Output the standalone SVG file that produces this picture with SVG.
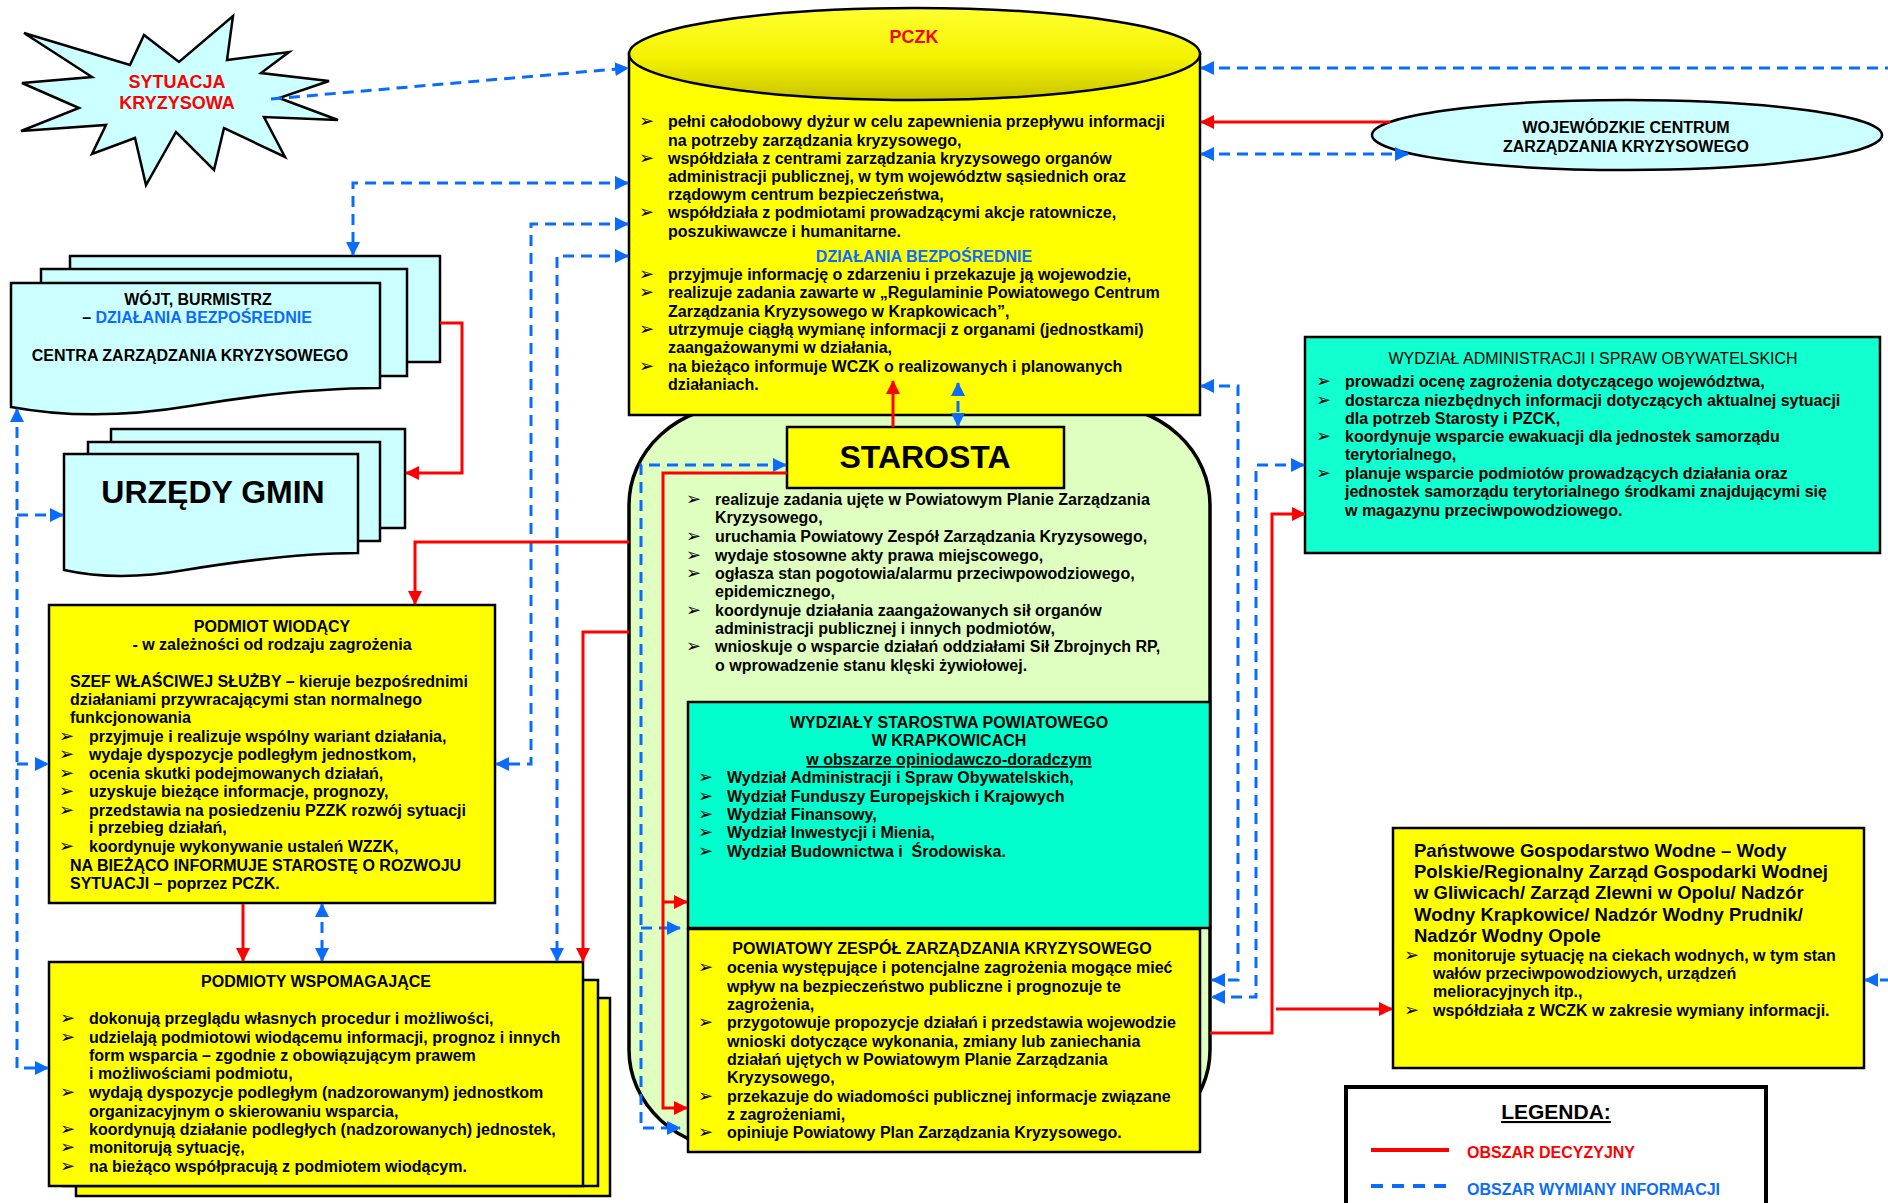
<svg xmlns="http://www.w3.org/2000/svg" width="1888" height="1203" viewBox="0 0 1888 1203">
<style>
.t{font-family:"Liberation Sans",Arial,sans-serif;font-weight:bold;font-size:16px;fill:#000}
.n{font-weight:normal}
.c{text-anchor:middle}
.bl{fill:#0a6cff}
.rd{fill:#ff0000}
.u{text-decoration:underline}
.s18{font-size:18px}
.s185{font-size:18.5px}
.s21{font-size:21px}
.s31{font-size:32px}
.b{font-family:"DejaVu Sans",sans-serif;font-size:18px;fill:#000}
.box{stroke:#000;stroke-width:2.5}
.yel{fill:#ffff00}
.cy{fill:#ccffff}
.aq{fill:#00ffcc}
.info{stroke:#0a6cff;stroke-width:3;stroke-dasharray:11 7;fill:none}
.dec{stroke:#ff0000;stroke-width:3;fill:none}
</style>
<defs>
<linearGradient id="topg" x1="0" y1="0" x2="0" y2="1">
<stop offset="0" stop-color="#ffff30"/>
<stop offset="0.55" stop-color="#f4f200"/>
<stop offset="1" stop-color="#c8c400"/>
</linearGradient>
<marker id="ab" viewBox="0 0 14 14" refX="13" refY="7" markerWidth="14" markerHeight="14" markerUnits="userSpaceOnUse" orient="auto-start-reverse"><path d="M0,0 L14,7 L0,14 z" fill="#0a6cff"/></marker>
<marker id="ar" viewBox="0 0 14 14" refX="13" refY="7" markerWidth="14" markerHeight="14" markerUnits="userSpaceOnUse" orient="auto-start-reverse"><path d="M0,0 L14,7 L0,14 z" fill="#ff0000"/></marker>
</defs>
<rect width="1888" height="1203" fill="#fff"/>

<g id="sytuacja">
<polygon class="box cy" points="24,33 130,65 144,35 179,62 233,16 227,60 289,52 261,73 329,81 279,98 338,120 264,117 285,157 224,128 214,170 176,132 146,185 135,138 92,154 106,125 21,131 79,108 22,83 92,77"/>
<text class="t c rd s18" x="177" y="88">SYTUACJA</text>
<text class="t c rd s18" x="177" y="109">KRYZYSOWA</text>
</g>

<g id="wojt">
<rect class="box cy" x="70" y="256" width="370" height="106"/>
<rect class="box cy" x="41" y="269" width="366" height="107"/>
<path class="box cy" d="M11,283 H380 V388 C320,388 250,396 190,406 C130,416 70,418 11,407 Z"/>
<text class="t c" x="198" y="305">WÓJT, BURMISTRZ</text>
<text class="t c" x="197" y="323">– <tspan class="bl">DZIAŁANIA BEZPOŚREDNIE</tspan></text>
<text class="t c" x="190" y="361">CENTRA ZARZĄDZANIA KRYZYSOWEGO</text>
</g>

<g id="urzedy">
<rect class="box cy" x="111" y="429" width="294" height="99"/>
<rect class="box cy" x="88" y="442" width="292" height="99"/>
<path class="box cy" d="M64,454 H358 V553 C300,553 240,561 185,570 C140,578 100,578 64,570 Z"/>
<text class="t c s31" x="213" y="503">URZĘDY GMIN</text>
</g>

<g id="podmiot-wiodacy">
<rect class="box yel" x="49" y="605" width="446" height="298"/>
<text class="t c" x="272" y="632">PODMIOT WIODĄCY</text>
<text class="t c" x="272" y="650">- w zależności od rodzaju zagrożenia</text>
<text class="t" x="70" y="687">SZEF WŁAŚCIWEJ SŁUŻBY – kieruje bezpośrednimi</text>
<text class="t" x="70" y="705">działaniami przywracającymi stan normalnego</text>
<text class="t" x="70" y="723">funkcjonowania</text>
<text class="b" x="59" y="742">➢</text><text class="t" x="89" y="742">przyjmuje i realizuje wspólny wariant działania,</text>
<text class="b" x="59" y="760">➢</text><text class="t" x="89" y="760">wydaje dyspozycje podległym jednostkom,</text>
<text class="b" x="59" y="779">➢</text><text class="t" x="89" y="779">ocenia skutki podejmowanych działań,</text>
<text class="b" x="59" y="797">➢</text><text class="t" x="89" y="797">uzyskuje bieżące informacje, prognozy,</text>
<text class="b" x="59" y="816">➢</text><text class="t" x="89" y="816">przedstawia na posiedzeniu PZZK rozwój sytuacji</text>
<text class="t" x="89" y="833">i przebieg działań,</text>
<text class="b" x="59" y="852">➢</text><text class="t" x="89" y="852">koordynuje wykonywanie ustaleń WZZK,</text>
<text class="t" x="70" y="871">NA BIEŻĄCO INFORMUJE STAROSTĘ O ROZWOJU</text>
<text class="t" x="70" y="889">SYTUACJI – poprzez PCZK.</text>
</g>

<g id="podmioty-wspomagajace">
<rect class="box yel" x="76" y="998" width="534" height="198"/>
<rect class="box yel" x="63" y="980" width="535" height="206"/>
<rect class="box yel" x="49" y="962" width="534" height="224"/>
<text class="t c" x="316" y="987">PODMIOTY WSPOMAGAJĄCE</text>
<text class="b" x="60" y="1024">➢</text><text class="t" x="89" y="1024">dokonują przeglądu własnych procedur i możliwości,</text>
<text class="b" x="60" y="1043">➢</text><text class="t" x="89" y="1043">udzielają podmiotowi wiodącemu informacji, prognoz i innych</text>
<text class="t" x="89" y="1061">form wsparcia – zgodnie z obowiązującym prawem</text>
<text class="t" x="89" y="1079">i możliwościami podmiotu,</text>
<text class="b" x="60" y="1098">➢</text><text class="t" x="89" y="1098">wydają dyspozycje podległym (nadzorowanym) jednostkom</text>
<text class="t" x="89" y="1117">organizacyjnym o skierowaniu wsparcia,</text>
<text class="b" x="60" y="1135">➢</text><text class="t" x="89" y="1135">koordynują działanie podległych (nadzorowanych) jednostek,</text>
<text class="b" x="60" y="1153">➢</text><text class="t" x="89" y="1153">monitorują sytuację,</text>
<text class="b" x="60" y="1172">➢</text><text class="t" x="89" y="1172">na bieżąco współpracują z podmiotem wiodącym.</text>
</g>

<g id="powiat">
<rect x="629" y="405" width="581" height="745" rx="110" ry="100" fill="#dfffc0" stroke="#000" stroke-width="3.5"/>
</g>

<g id="pczk">
<rect class="box yel" x="629" y="54" width="571" height="361"/>
<ellipse cx="914.5" cy="54" rx="285.5" ry="46" fill="url(#topg)" stroke="#000" stroke-width="2.5"/>
<text class="t c rd s18" x="914" y="43">PCZK</text>
<text class="b" x="639" y="127">➢</text><text class="t" x="668" y="127">pełni całodobowy dyżur w celu zapewnienia przepływu informacji</text>
<text class="t" x="668" y="146">na potrzeby zarządzania kryzysowego,</text>
<text class="b" x="639" y="164">➢</text><text class="t" x="668" y="164">współdziała z centrami zarządzania kryzysowego organów</text>
<text class="t" x="668" y="182">administracji publicznej, w tym województw sąsiednich oraz</text>
<text class="t" x="668" y="200">rządowym centrum bezpieczeństwa,</text>
<text class="b" x="639" y="218">➢</text><text class="t" x="668" y="218">współdziała z podmiotami prowadzącymi akcje ratownicze,</text>
<text class="t" x="668" y="237">poszukiwawcze i humanitarne.</text>
<text class="t c bl" x="924" y="262">DZIAŁANIA BEZPOŚREDNIE</text>
<text class="b" x="639" y="280">➢</text><text class="t" x="668" y="280">przyjmuje informację o zdarzeniu i przekazuje ją wojewodzie,</text>
<text class="b" x="639" y="298">➢</text><text class="t" x="668" y="298">realizuje zadania zawarte w „Regulaminie Powiatowego Centrum</text>
<text class="t" x="668" y="317">Zarządzania Kryzysowego w Krapkowicach”,</text>
<text class="b" x="639" y="335">➢</text><text class="t" x="668" y="335">utrzymuje ciągłą wymianę informacji z organami (jednostkami)</text>
<text class="t" x="668" y="353">zaangażowanymi w działania,</text>
<text class="b" x="639" y="372">➢</text><text class="t" x="668" y="372">na bieżąco informuje WCZK o realizowanych i planowanych</text>
<text class="t" x="668" y="390">działaniach.</text>
</g>

<g id="starosta">
<rect class="box yel" x="787" y="427" width="277" height="61"/>
<text class="t c s31" x="925" y="468">STAROSTA</text>
<text class="b" x="686" y="505">➢</text><text class="t" x="715" y="505">realizuje zadania ujęte w Powiatowym Planie Zarządzania</text>
<text class="t" x="715" y="523">Kryzysowego,</text>
<text class="b" x="686" y="542">➢</text><text class="t" x="715" y="542">uruchamia Powiatowy Zespół Zarządzania Kryzysowego,</text>
<text class="b" x="686" y="561">➢</text><text class="t" x="715" y="561">wydaje stosowne akty prawa miejscowego,</text>
<text class="b" x="686" y="579">➢</text><text class="t" x="715" y="579">ogłasza stan pogotowia/alarmu przeciwpowodziowego,</text>
<text class="t" x="715" y="597">epidemicznego,</text>
<text class="b" x="686" y="616">➢</text><text class="t" x="715" y="616">koordynuje działania zaangażowanych sił organów</text>
<text class="t" x="715" y="634">administracji publicznej i innych podmiotów,</text>
<text class="b" x="686" y="652">➢</text><text class="t" x="715" y="652">wnioskuje o wsparcie działań oddziałami Sił Zbrojnych RP,</text>
<text class="t" x="715" y="671">o wprowadzenie stanu klęski żywiołowej.</text>
</g>

<g id="wydzialy">
<rect class="box aq" x="688" y="702" width="522" height="226"/>
<text class="t c" x="949" y="728">WYDZIAŁY STAROSTWA POWIATOWEGO</text>
<text class="t c" x="949" y="746">W KRAPKOWICACH</text>
<text class="t c u" x="949" y="765">w obszarze opiniodawczo-doradczym</text>
<text class="b" x="698" y="783">➢</text><text class="t" x="727" y="783">Wydział Administracji i Spraw Obywatelskich,</text>
<text class="b" x="698" y="802">➢</text><text class="t" x="727" y="802">Wydział Funduszy Europejskich i Krajowych</text>
<text class="b" x="698" y="820">➢</text><text class="t" x="727" y="820">Wydział Finansowy,</text>
<text class="b" x="698" y="838">➢</text><text class="t" x="727" y="838">Wydział Inwestycji i Mienia,</text>
<text class="b" x="698" y="857">➢</text><text class="t" x="727" y="857" xml:space="preserve">Wydział Budownictwa i  Środowiska.</text>
</g>

<g id="pzzk">
<rect class="box yel" x="688" y="929" width="512" height="223"/>
<text class="t c" x="942" y="954">POWIATOWY ZESPÓŁ ZARZĄDZANIA KRYZYSOWEGO</text>
<text class="b" x="698" y="973">➢</text><text class="t" x="727" y="973">ocenia występujące i potencjalne zagrożenia mogące mieć</text>
<text class="t" x="727" y="992">wpływ na bezpieczeństwo publiczne i prognozuje te</text>
<text class="t" x="727" y="1010">zagrożenia,</text>
<text class="b" x="698" y="1028">➢</text><text class="t" x="727" y="1028">przygotowuje propozycje działań i przedstawia wojewodzie</text>
<text class="t" x="727" y="1047">wnioski dotyczące wykonania, zmiany lub zaniechania</text>
<text class="t" x="727" y="1065">działań ujętych w Powiatowym Planie Zarządzania</text>
<text class="t" x="727" y="1083">Kryzysowego,</text>
<text class="b" x="698" y="1102">➢</text><text class="t" x="727" y="1102">przekazuje do wiadomości publicznej informacje związane</text>
<text class="t" x="727" y="1120">z zagrożeniami,</text>
<text class="b" x="698" y="1138">➢</text><text class="t" x="727" y="1138">opiniuje Powiatowy Plan Zarządzania Kryzysowego.</text>
</g>

<g id="wczk">
<ellipse class="box cy" cx="1627" cy="135" rx="255" ry="35"/>
<text class="t c" x="1626" y="133">WOJEWÓDZKIE CENTRUM</text>
<text class="t c" x="1626" y="152">ZARZĄDZANIA KRYZYSOWEGO</text>
</g>

<g id="wydzial-administracji">
<rect class="box" x="1305" y="337" width="575" height="216" fill="#12ffcf"/>
<text class="t n c" x="1593" y="364">WYDZIAŁ ADMINISTRACJI I SPRAW OBYWATELSKICH</text>
<text class="b" x="1316" y="387">➢</text><text class="t" x="1345" y="387">prowadzi ocenę zagrożenia dotyczącego województwa,</text>
<text class="b" x="1316" y="406">➢</text><text class="t" x="1345" y="406">dostarcza niezbędnych informacji dotyczących aktualnej sytuacji</text>
<text class="t" x="1345" y="424">dla potrzeb Starosty i PZCK,</text>
<text class="b" x="1316" y="442">➢</text><text class="t" x="1345" y="442">koordynuje wsparcie ewakuacji dla jednostek samorządu</text>
<text class="t" x="1345" y="460">terytorialnego,</text>
<text class="b" x="1316" y="479">➢</text><text class="t" x="1345" y="479">planuje wsparcie podmiotów prowadzących działania oraz</text>
<text class="t" x="1345" y="497">jednostek samorządu terytorialnego środkami znajdującymi się</text>
<text class="t" x="1345" y="516">w magazynu przeciwpowodziowego.</text>
</g>

<g id="pgw">
<rect class="box yel" x="1393" y="828" width="471" height="240"/>
<text class="t s185" x="1414" y="857">Państwowe Gospodarstwo Wodne – Wody</text>
<text class="t s185" x="1414" y="878">Polskie/Regionalny Zarząd Gospodarki Wodnej</text>
<text class="t s185" x="1414" y="899">w Gliwicach/ Zarząd Zlewni w Opolu/ Nadzór</text>
<text class="t s185" x="1414" y="921">Wodny Krapkowice/ Nadzór Wodny Prudnik/</text>
<text class="t s185" x="1414" y="942">Nadzór Wodny Opole</text>
<text class="b" x="1404" y="961">➢</text><text class="t" x="1433" y="961">monitoruje sytuację na ciekach wodnych, w tym stan</text>
<text class="t" x="1433" y="979">wałów przeciwpowodziowych, urządzeń</text>
<text class="t" x="1433" y="997">melioracyjnych itp.,</text>
<text class="b" x="1404" y="1016">➢</text><text class="t" x="1433" y="1016">współdziała z WCZK w zakresie wymiany informacji.</text>
</g>

<g id="legenda">
<rect x="1346" y="1087" width="420" height="140" fill="#fff" stroke="#000" stroke-width="4"/>
<text class="t c u s21" x="1556" y="1119">LEGENDA:</text>
<line x1="1371" y1="1150" x2="1449" y2="1150" stroke="#ff0000" stroke-width="4"/>
<text class="t rd" x="1467" y="1158">OBSZAR DECYZYJNY</text>
<line x1="1371" y1="1186" x2="1449" y2="1186" stroke="#0a6cff" stroke-width="4" stroke-dasharray="12 9"/>
<text class="t bl" x="1467" y="1195">OBSZAR WYMIANY INFORMACJI</text>
</g>

<g id="connectors">
<path class="info" d="M271,99 L628,68" marker-end="url(#ab)"/>
<path class="info" d="M628,183 H353 V255" marker-start="url(#ab)" marker-end="url(#ab)"/>
<path class="info" d="M628,224 H531 V764 H496" marker-start="url(#ab)" marker-end="url(#ab)"/>
<path class="info" d="M628,256 H557 V961" marker-start="url(#ab)" marker-end="url(#ab)"/>
<path class="info" d="M17,409 V1068 H48" marker-start="url(#ab)" marker-end="url(#ab)"/>
<path class="info" d="M17,515 H63" marker-end="url(#ab)"/>
<path class="info" d="M17,764 H48" marker-end="url(#ab)"/>
<path class="info" d="M322,904 V961" marker-start="url(#ab)" marker-end="url(#ab)"/>
<path class="info" d="M958,383 V426" marker-start="url(#ab)" marker-end="url(#ab)"/>
<path class="info" d="M786,465 H641 V1128 H680" marker-start="url(#ab)" marker-end="url(#ab)"/>
<path class="info" d="M641,928 H680" marker-end="url(#ab)"/>
<path class="info" d="M1201,386 H1238 V980 H1212" marker-start="url(#ab)" marker-end="url(#ab)"/>
<path class="info" d="M1304,465 H1256 V997 H1212" marker-start="url(#ab)" marker-end="url(#ab)"/>
<path class="info" d="M1201,68 H1900 V980 H1865" marker-start="url(#ab)" marker-end="url(#ab)"/>
<path class="info" d="M1201,154 H1408" marker-start="url(#ab)" marker-end="url(#ab)"/>
<path class="dec" d="M1390,122 H1201" marker-end="url(#ar)"/>
<path class="dec" d="M440,323 H462 V473 H406" marker-end="url(#ar)"/>
<path class="dec" d="M629,542 H415 V604" marker-end="url(#ar)"/>
<path class="dec" d="M629,632 H583 V961" marker-end="url(#ar)"/>
<path class="dec" d="M243,904 V961" marker-end="url(#ar)"/>
<path class="dec" d="M893,427 V381" marker-end="url(#ar)"/>
<path class="dec" d="M787,473 H663 V1108 H687" marker-end="url(#ar)"/>
<path class="dec" d="M663,902 H687" marker-end="url(#ar)"/>
<path class="dec" d="M1210,1033 H1272 V514 H1305" marker-end="url(#ar)"/>
<path class="dec" d="M1276,1009 H1392" marker-end="url(#ar)"/>
</g>
</svg>
